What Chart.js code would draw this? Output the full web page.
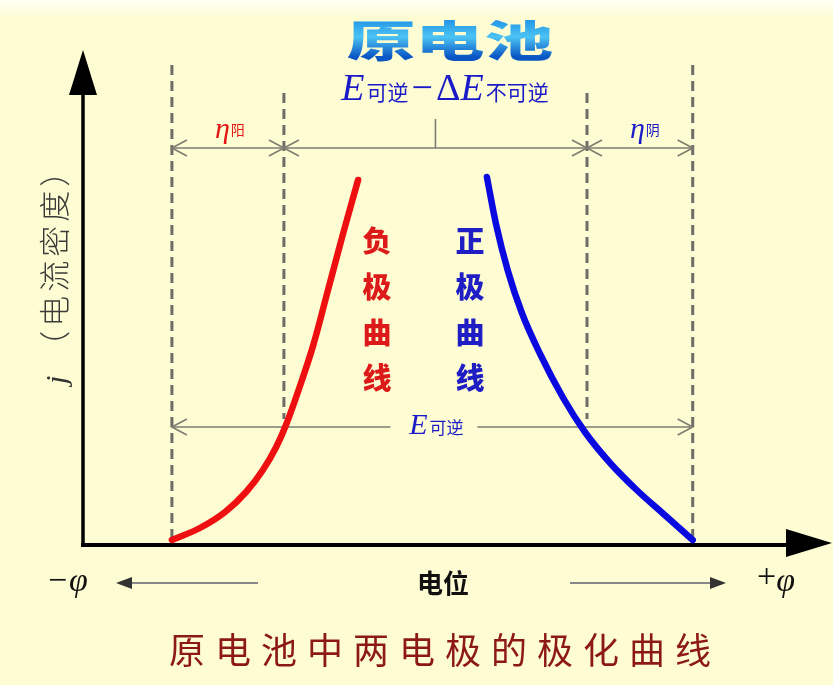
<!DOCTYPE html>
<html>
<head>
<meta charset="utf-8">
<script src="https://cdn.jsdelivr.net/npm/chart.js@4.4.0/dist/chart.umd.min.js"></script>
<style>
  html, body { margin: 0; padding: 0; background: #fefcd2; }
  canvas { display: block; }
</style>
</head>
<body>
<canvas id="chart" width="833" height="685"></canvas>
<script>
// potential runs 0..100 left to right, current density j runs 0..100 bottom to top
const anodeX = [12.7, 16.7, 20.3, 23.3, 25.7, 27.6, 29.0, 30.7, 32.9, 35.0, 37.1, 39.3];
const anodeJ = [1, 3.4, 6.6, 10.6, 15, 19.6, 24, 30.6, 40, 51, 62, 73];
const cathodeX = [57.7, 59.0, 60.7, 62.7, 65.3, 68.6, 71.7, 75.3, 79.1, 83.1, 87.1];
const cathodeJ = [73.6, 64.2, 54.8, 46.4, 38.2, 29.4, 22.6, 16.4, 11, 6, 1];

// guide potentials: equilibrium anode, working anode, working cathode, equilibrium cathode
const guideX = [12.7, 28.7, 72.0, 87.1];
const guideTop = [96, 90.4, 90.4, 96];
// j levels of the two dimension rows: overpotentials row, E reversible row
const rowJ = [79.4, 23.6];

const canvas = document.getElementById("chart");
const ctx = canvas.getContext("2d");

const CJK = "'Noto Sans CJK SC', 'Noto Sans', sans-serif";
const SERIF = "'Liberation Serif', 'DejaVu Serif', serif";

function line(c, x1, y1, x2, y2) {
  c.beginPath();
  c.moveTo(x1, y1);
  c.lineTo(x2, y2);
  c.stroke();
}

// open chevron arrow head, dir = -1 points left, +1 points right
function openHead(c, x, y, dir) {
  c.beginPath();
  c.moveTo(x - dir * 15, y - 8);
  c.lineTo(x, y);
  c.lineTo(x - dir * 15, y + 8);
  c.stroke();
}

function dimension(c, x1, x2, y) {
  line(c, x1, y, x2, y);
  openHead(c, x1, y, -1);
  openHead(c, x2, y, 1);
}

// draw a run of text pieces: [text, font, color, dy, gapAfter]
function runWidth(c, parts) {
  let w = 0;
  parts.forEach(p => { c.font = p[1]; w += c.measureText(p[0]).width + (p[4] || 0); });
  return w;
}
function drawRun(c, parts, x, y, center) {
  let cx = center ? x - runWidth(c, parts) / 2 : x;
  c.textAlign = "left";
  c.textBaseline = "alphabetic";
  parts.forEach(p => {
    c.font = p[1];
    c.fillStyle = p[2];
    c.fillText(p[0], cx, y + (p[3] || 0));
    cx += c.measureText(p[0]).width + (p[4] || 0);
  });
}

const diagram = {
  id: "diagram",
  beforeDatasetsDraw(chart) {
    const c = chart.ctx;
    const xs = chart.scales.x, ys = chart.scales.y;
    const a = chart.chartArea;
    c.save();

    // soft light band at the top edge
    const g = c.createLinearGradient(0, 0, 0, 18);
    g.addColorStop(0, "rgba(255,255,255,0.8)");
    g.addColorStop(1, "rgba(255,255,255,0)");
    c.fillStyle = g;
    c.fillRect(0, 0, chart.width, 18);

    // dashed guide lines
    c.strokeStyle = "#6e6e66";
    c.lineWidth = 3;
    c.setLineDash([10, 6]);
    guideX.forEach((gx, i) => {
      const px = xs.getPixelForValue(gx);
      const bottom = (i === 1 || i === 2) ? ys.getPixelForValue(rowJ[1]) - 8 : a.bottom;
      line(c, px, ys.getPixelForValue(guideTop[i]), px, bottom);
    });
    c.setLineDash([]);

    // dimension arrows
    c.strokeStyle = "#7d7d70";
    c.lineWidth = 1.6;
    const p = guideX.map(v => xs.getPixelForValue(v));
    const yTop = ys.getPixelForValue(rowJ[0]);
    dimension(c, p[0], p[1], yTop);
    dimension(c, p[1], p[2], yTop);
    dimension(c, p[2], p[3], yTop);
    const mid = (p[1] + p[2]) / 2;
    line(c, mid, yTop - 29, mid, yTop);

    const yLow = ys.getPixelForValue(rowJ[1]);
    line(c, p[0], yLow, mid - 45, yLow);
    line(c, mid + 42, yLow, p[3], yLow);
    openHead(c, p[0], yLow, -1);
    openHead(c, p[3], yLow, 1);

    // axes
    c.strokeStyle = "#000";
    c.fillStyle = "#000";
    c.lineWidth = 3.5;
    line(c, a.left, a.bottom, a.left, a.top + 48);
    c.beginPath();
    c.moveTo(a.left, a.top + 5);
    c.lineTo(a.left - 14, a.top + 50);
    c.lineTo(a.left + 14, a.top + 50);
    c.closePath();
    c.fill();

    c.lineWidth = 4;
    line(c, a.left - 2, a.bottom, a.right + 5, a.bottom);
    c.beginPath();
    c.moveTo(a.right + 49, a.bottom - 2);
    c.lineTo(a.right + 3, a.bottom - 16);
    c.lineTo(a.right + 3, a.bottom + 12);
    c.closePath();
    c.fill();

    c.restore();
  },
  afterDraw(chart) {
    const c = chart.ctx;
    const xs = chart.scales.x, ys = chart.scales.y;
    const a = chart.chartArea;
    const p = guideX.map(v => xs.getPixelForValue(v));
    const mid = (p[1] + p[2]) / 2;
    c.save();

    // title
    c.save();
    c.translate(450, 57);
    c.scale(1.6, 1);
    const tg = c.createLinearGradient(0, -40, 0, 0);
    tg.addColorStop(0, "#1c8ee6");
    tg.addColorStop(0.5, "#4cc4f4");
    tg.addColorStop(1, "#0a56c4");
    c.fillStyle = tg;
    c.font = "900 43px " + CJK;
    c.textAlign = "center";
    c.textBaseline = "alphabetic";
    c.fillText("原电池", 0, 0);
    c.restore();

    const blue = "#1a1ac8";
    const red = "#e41414";

    // E可逆 − ΔE不可逆
    drawRun(c, [
      ["E", "italic 38px " + SERIF, blue, 0, 2],
      ["可逆", "21px " + CJK, blue, 0, 3],
      ["\u2212", "38px " + SERIF, blue, 0, 3],
      ["\u0394", "38px " + SERIF, blue, 0, 0],
      ["E", "italic 38px " + SERIF, blue, 0, 2],
      ["不可逆", "21px " + CJK, blue, 0, 0]
    ], 445, 100, true);

    // overpotential labels
    const yTop = ys.getPixelForValue(rowJ[0]);
    drawRun(c, [
      ["\u03b7", "italic 30px " + SERIF, red, 0, 1],
      ["阳", "14px " + CJK, red, -3, 0]
    ], (p[0] + p[1]) / 2 + 2, yTop - 10, true);
    drawRun(c, [
      ["\u03b7", "italic 30px " + SERIF, blue, 0, 1],
      ["阴", "14px " + CJK, blue, -3, 0]
    ], (p[2] + p[3]) / 2 + 5, yTop - 10, true);

    // E可逆 on the lower row
    const yLow = ys.getPixelForValue(rowJ[1]);
    drawRun(c, [
      ["E", "italic 30px " + SERIF, blue, 0, 2],
      ["可逆", "17px " + CJK, blue, 0, 0]
    ], mid + 1, yLow + 7, true);

    // curve names, written vertically
    c.textAlign = "center";
    c.textBaseline = "middle";
    c.font = "900 29px " + CJK;
    const rows = [241, 287, 333, 378];
    c.fillStyle = "#dc1a1a";
    "负极曲线".split("").forEach((ch, i) => c.fillText(ch, 377, rows[i]));
    c.fillStyle = "#1e1ec4";
    "正极曲线".split("").forEach((ch, i) => c.fillText(ch, 470, rows[i]));

    // y axis title
    c.save();
    c.translate(56, 384);
    c.rotate(-Math.PI / 2);
    c.letterSpacing = "4px";
    drawRun(c, [
      ["j", "italic 30px " + SERIF, "#333", 0, 10],
      ["（电流密度）", "300 31px " + CJK, "#3a3a3a", 0, 0]
    ], 0, 10, false);
    c.letterSpacing = "0px";
    c.restore();

    // potential direction row
    const yb = a.bottom + 38;
    drawRun(c, [["\u2212\u03c6", "italic 34px " + SERIF, "#111", 0, 0]], 46, yb + 8, false);
    drawRun(c, [["+", "34px " + SERIF, "#111", -4, 0], ["\u03c6", "italic 34px " + SERIF, "#111", 0, 0]], 757, yb + 8, false);
    c.strokeStyle = "#888";
    c.fillStyle = "#333";
    c.lineWidth = 2;
    line(c, 258, yb, 128, yb);
    c.beginPath();
    c.moveTo(116, yb); c.lineTo(132, yb - 6); c.lineTo(132, yb + 6); c.closePath(); c.fill();
    line(c, 570, yb, 712, yb);
    c.beginPath();
    c.moveTo(726, yb); c.lineTo(710, yb - 6); c.lineTo(710, yb + 6); c.closePath(); c.fill();
    c.font = "bold 26px " + CJK;
    c.fillStyle = "#111";
    c.textAlign = "center";
    c.textBaseline = "middle";
    c.fillText("电位", 443, yb);

    // caption
    c.font = "36px " + CJK;
    c.fillStyle = "#8c1818";
    c.letterSpacing = "10px";
    c.textAlign = "center";
    c.textBaseline = "alphabetic";
    c.fillText("原电池中两电极的极化曲线", 445, 664);
    c.letterSpacing = "0px";

    c.restore();
  }
};

function toPoints(xsArr, ysArr) {
  return xsArr.map((x, i) => ({ x: x, y: ysArr[i] }));
}

new Chart(ctx, {
  type: "scatter",
  data: {
    datasets: [
      {
        label: "负极曲线",
        data: toPoints(anodeX, anodeJ),
        showLine: true,
        borderColor: "#ee1010",
        borderWidth: 6.5,
        borderCapStyle: "round",
        pointRadius: 0,
        cubicInterpolationMode: "monotone"
      },
      {
        label: "正极曲线",
        data: toPoints(cathodeX, cathodeJ),
        showLine: true,
        borderColor: "#0a0ae0",
        borderWidth: 6.5,
        borderCapStyle: "round",
        pointRadius: 0,
        cubicInterpolationMode: "monotone"
      }
    ]
  },
  options: {
    responsive: false,
    animation: false,
    clip: false,
    layout: { padding: { left: 83, right: 50, top: 45, bottom: 140 } },
    scales: {
      x: { type: "linear", min: 0, max: 100, display: false },
      y: { type: "linear", min: 0, max: 100, display: false }
    },
    plugins: {
      legend: { display: false },
      tooltip: { enabled: false }
    }
  },
  plugins: [diagram]
});
</script>
</body>
</html>
